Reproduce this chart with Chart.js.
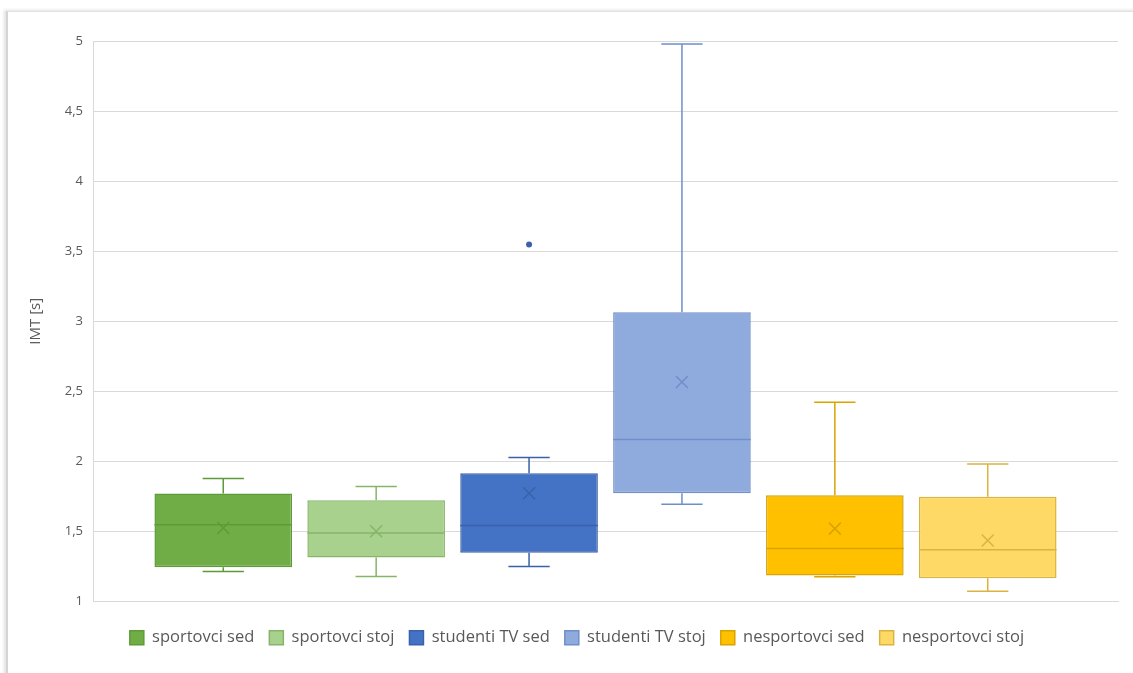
<!DOCTYPE html>
<html>
<head>
<meta charset="utf-8">
<script src="https://cdn.jsdelivr.net/npm/chart.js@4"></script>
<style>
  html, body { margin: 0; padding: 0; background: #fff; }
  #frame {
    position: absolute; left: 6px; top: 11px; width: 1140px; height: 680px;
    border-left: 2px solid #d4d4d4; border-top: 1px solid #e2e2e2;
    box-shadow: -2px -1px 3px rgba(0,0,0,0.12);
  }
  #wrap { position: absolute; left: 0; top: 0; width: 1133px; height: 673px; }
</style>
</head>
<body>
<div id="frame"></div>
<div id="wrap"><canvas id="myChart"></canvas></div>
<script>
// skupiny (serie)
const series = ['sportovci sed', 'sportovci stoj', 'studenti TV sed', 'studenti TV stoj', 'nesportovci sed', 'nesportovci stoj'];
// hodnoty
const mins    = [1.214, 1.178, 1.250, 1.694, 1.176, 1.073];
const q1s     = [1.245, 1.314, 1.348, 1.773, 1.185, 1.166];
const medians = [1.547, 1.489, 1.542, 2.156, 1.379, 1.369];
const q3s     = [1.771, 1.723, 1.915, 3.065, 1.759, 1.748];
const maxs    = [1.877, 1.821, 2.027, 4.978, 2.422, 1.981];
const means   = [1.525, 1.501, 1.773, 2.567, 1.520, 1.436];
const outliers = [[], [], [3.548], [], [], []];
const yTicks = [1, 1.5, 2, 2.5, 3, 3.5, 4, 4.5, 5];

const fills = ['#70AD47', '#A9D18E', '#4472C4', '#8FAADC', '#FFC000', '#FFD966'];
const lines = ['#5E9B38', '#86B56A', '#3A62AA', '#6F8FCB', '#D9A300', '#D9B440'];

const boxPlugin = {
  id: 'boxPlugin',
  afterLayout(chart) {
    // legenda je v originale trochu doprava
    chart.legend.left += 18;
    chart.legend.right += 18;
  },
  afterDatasetsDraw(chart) {
    const ctx = chart.ctx;
    const y = chart.scales.y;
    chart.data.datasets.forEach((ds, i) => {
      const bar = chart.getDatasetMeta(i).data[0];
      const x = bar.x;
      const half = bar.width / 2;
      const cap = bar.width * 0.15;
      ctx.save();
      ctx.strokeStyle = lines[i];
      ctx.lineWidth = 1.5;
      ctx.beginPath();
      // fousy
      ctx.moveTo(x, y.getPixelForValue(q3s[i]));
      ctx.lineTo(x, y.getPixelForValue(maxs[i]));
      ctx.moveTo(x - cap, y.getPixelForValue(maxs[i]));
      ctx.lineTo(x + cap, y.getPixelForValue(maxs[i]));
      ctx.moveTo(x, y.getPixelForValue(q1s[i]));
      ctx.lineTo(x, y.getPixelForValue(mins[i]));
      ctx.moveTo(x - cap, y.getPixelForValue(mins[i]));
      ctx.lineTo(x + cap, y.getPixelForValue(mins[i]));
      // median
      ctx.moveTo(x - half, y.getPixelForValue(medians[i]));
      ctx.lineTo(x + half, y.getPixelForValue(medians[i]));
      // prumer (x)
      const my = y.getPixelForValue(means[i]);
      ctx.moveTo(x - 6, my - 6); ctx.lineTo(x + 6, my + 6);
      ctx.moveTo(x - 6, my + 6); ctx.lineTo(x + 6, my - 6);
      ctx.stroke();
      // odlehle hodnoty
      ctx.fillStyle = lines[i];
      outliers[i].forEach(v => {
        ctx.beginPath();
        ctx.arc(x, y.getPixelForValue(v), 3, 0, Math.PI * 2);
        ctx.fill();
      });
      ctx.restore();
    });
  }
};

const ctx = document.getElementById('myChart');

new Chart(ctx, {
  type: 'bar',
  data: {
    labels: [''],
    datasets: series.map((name, i) => ({
      label: name,
      data: [[q1s[i], q3s[i]]],
      backgroundColor: fills[i],
      borderColor: lines[i],
      borderWidth: 1.5,
      borderSkipped: false
    }))
  },
  options: {
    responsive: true,
    maintainAspectRatio: false,
    animation: false,
    layout: { padding: { top: 41, right: 15, bottom: 17, left: 0 } },
    datasets: { bar: { categoryPercentage: 0.895, barPercentage: 0.9 } },
    plugins: {
      tooltip: { enabled: false },
      legend: {
        position: 'bottom',
        labels: {
          boxWidth: 14, boxHeight: 14, padding: 15,
          color: '#595959',
          font: { family: 'Open Sans', size: 16.5 }
        }
      }
    },
    scales: {
      x: {
        ticks: { display: false },
        grid: { display: false },
        border: { color: '#d9d9d9' },
        afterFit: s => { s.height = 13; }
      },
      y: {
        min: 1, max: 5,
        afterBuildTicks: s => { s.ticks = yTicks.map(v => ({ value: v })); },
        afterFit: s => { s.width = 93; },
        ticks: {
          color: '#595959',
          font: { family: 'Open Sans', size: 13 },
          padding: 10,
          callback: v => String(v).replace('.', ',')
        },
        grid: { color: '#d9d9d9', drawTicks: false },
        border: { color: '#d9d9d9' },
        title: {
          display: true, text: 'IMT [s]', color: '#595959',
          font: { family: 'Open Sans', size: 15 },
          padding: { top: 27, bottom: 0 }
        }
      }
    }
  },
  plugins: [boxPlugin]
});
</script>
</body>
</html>
